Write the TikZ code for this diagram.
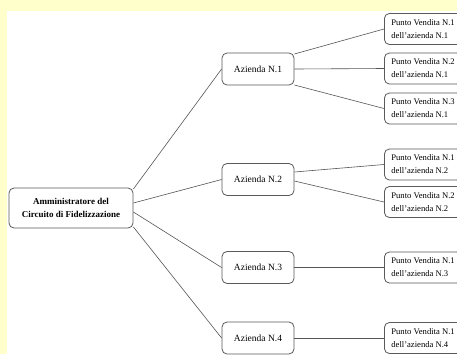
\documentclass[tikz,border=0pt]{standalone}
\usepackage{fontspec}
\setmainfont{Liberation Serif}
\usepackage{tikz}
\usetikzlibrary{positioning,calc}

\definecolor{sfondo}{HTML}{FFFFCC}
\definecolor{bordo}{HTML}{5A5A5A}
\definecolor{linea}{HTML}{555555}

\begin{document}
\begin{tikzpicture}[
    x=1pt, y=-1pt,
    box/.style={rectangle, rounded corners=5pt, draw=bordo, line width=0.8pt, fill=white},
    admin/.style={box, minimum width=124pt, minimum height=40pt, align=center,
        font=\fontsize{9}{13}\selectfont\bfseries},
    azienda/.style={box, minimum width=72pt, minimum height=32pt,
        font=\fontsize{9.5}{11}\selectfont},
    punto/.style={box, anchor=west, inner xsep=7pt, minimum height=31pt,
        align=left, font=\fontsize{8.6}{13}\selectfont},
    link/.style={draw=linea, line width=0.6pt}
]

% sfondo
\path[use as bounding box, clip] (0,0) rectangle (457,354);
\fill[sfondo] (0,0) rectangle (457,354);
\fill[white] (7,11) rectangle (457,354);

\node[admin] (admin) at (71,208) {Amministratore del\\Circuito di Fidelizzazione};

\node[azienda] (az1) at (258,69) {Azienda N.1};
\node[azienda] (az2) at (258,179.5) {Azienda N.2};
\node[azienda] (az3) at (258,267.5) {Azienda N.3};
\node[azienda] (az4) at (258,338) {Azienda N.4};

\node[punto] (p11) at (384,29) {Punto Vendita N.1\\dell'azienda N.1};
\node[punto] (p12) at (384,68.5) {Punto Vendita N.2\\dell'azienda N.1};
\node[punto] (p13) at (384,108.5) {Punto Vendita N.3\\dell'azienda N.1};
\node[punto] (p21) at (384,164.5) {Punto Vendita N.1\\dell'azienda N.2};
\node[punto] (p22) at (384,202) {Punto Vendita N.2\\dell'azienda N.2};
\node[punto] (p31) at (384,267.5) {Punto Vendita N.1\\dell'azienda N.3};
\node[punto] (p41) at (384,338) {Punto Vendita N.1\\dell'azienda N.4};

% collegamenti
\draw[link] ([yshift=19pt]admin.east) -- (az1.west);
\draw[link] ([yshift=5pt]admin.east) -- (az2.west);
\draw[link] ([yshift=-4pt]admin.east) -- (az3.west);
\draw[link] ([yshift=-19pt]admin.east) -- (az4.west);

\draw[link] ([yshift=15pt]az1.east) -- (p11.west);
\draw[link] (az1.east) -- (p12.west);
\draw[link] ([yshift=-16pt]az1.east) -- (p13.west);
\draw[link] ([yshift=7.5pt]az2.east) -- (p21.west);
\draw[link] ([yshift=-1.5pt]az2.east) -- (p22.west);
\draw[link] (az3.east) -- (p31.west);
\draw[link] (az4.east) -- (p41.west);

\end{tikzpicture}
\end{document}
